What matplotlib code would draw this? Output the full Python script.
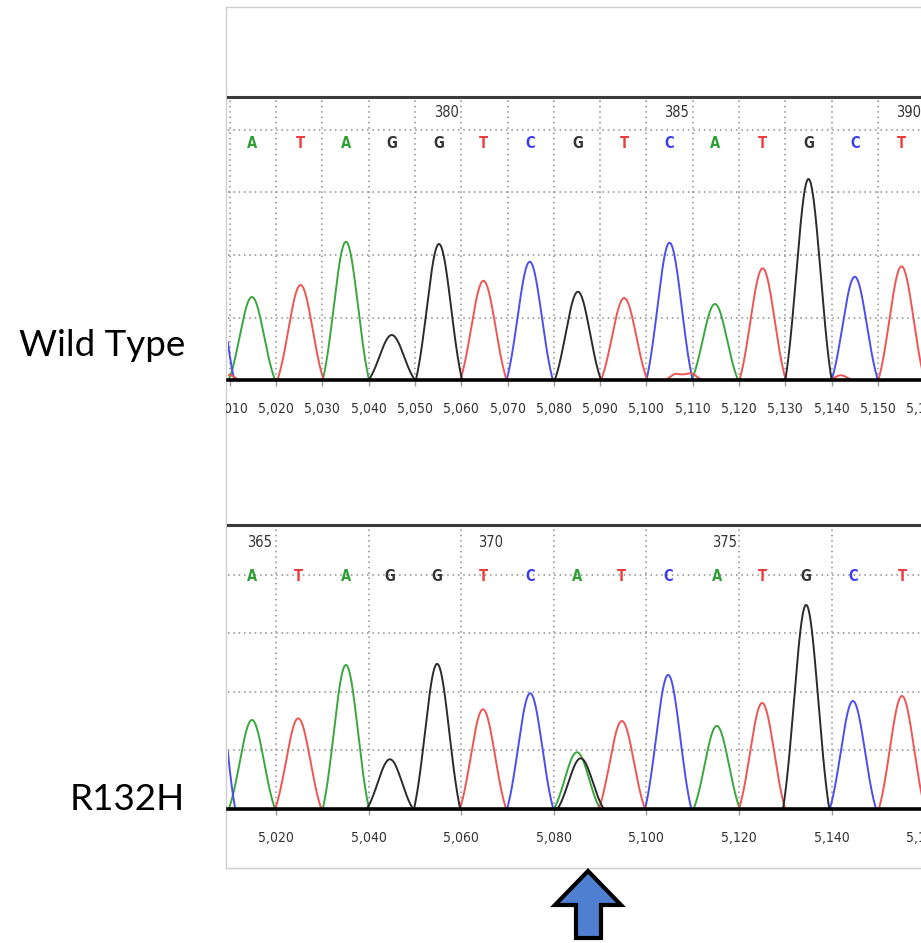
import numpy as np
import matplotlib
matplotlib.use("Agg")
import matplotlib.pyplot as plt
from matplotlib.patches import Polygon

# base calls for the two reads
wt_bases = list("ATAGGTCGTCATGCT")
mut_bases = list("ATAGGTCATCATGCT")

# peak centres (scan position) and peak heights
wt_pos = [5014.8, 5025.3, 5035.1, 5045.0, 5055.2, 5064.8, 5074.8, 5085.2,
          5095.2, 5105.0, 5114.8, 5125.1, 5135.0, 5145.0, 5155.1]
wt_height = [664, 760, 1106, 360, 1088, 794, 946, 706,
             656, 1098, 608, 893, 1608, 826, 909]
mut_pos = [5014.8, 5024.8, 5035.1, 5044.6, 5054.8, 5064.7, 5074.9, 5085.0,
           5094.7, 5104.7, 5115.2, 5125.0, 5134.5, 5144.6, 5155.2]
mut_height = [761, 775, 1231, 425, 1240, 852, 989, 485,
              752, 1146, 710, 906, 1744, 923, 966]

# extra peaks: (base, position, height, half width)
wt_extra = [("C", 5006.0, 1100, 5), ("T", 5010.0, 40, 2),
            ("T", 5106.5, 50, 2.5), ("T", 5109.5, 55, 2.5), ("T", 5142.0, 38, 2.5)]
mut_extra = [("C", 5006.2, 1500, 5), ("G", 5085.8, 433, 5)]

# base numbering
wt_first, wt_marks = 376, [375, 380, 385, 390]
mut_first, mut_marks = 365, [365, 370, 375]

wt_ticks = list(range(5010, 5170, 10))
mut_ticks = list(range(5020, 5170, 20))

trace_col = {"A": "#3aa63f", "T": "#ee5656", "C": "#4d4df0", "G": "#2b2b2b"}
letter_col = {"A": "#2f9e35", "T": "#ee3b3b", "C": "#3a3aee", "G": "#333333"}

W, H = 921, 943
fig = plt.figure(figsize=(W / 100, H / 100), dpi=100)


def px(x0, y_top, x1, y_bot):
    return [x0 / W, 1 - y_bot / H, (x1 - x0) / W, (y_bot - y_top) / H]


# light frame round both traces
frame = fig.add_axes(px(226, 7, 930, 868))
frame.set_xticks([])
frame.set_yticks([])
for s in frame.spines.values():
    s.set_color("#cfcfcf")
    s.set_linewidth(1.0)

xlim = (5009.63, 5161.25)
dots = (0, (1, 2.5))


def trace(x, centres, heights, halfw):
    y = np.zeros_like(x)
    for c, h, w in zip(centres, heights, halfw):
        s = w / 1.9
        g = np.exp(-(x - c) ** 2 / (2 * s * s))
        g0 = np.exp(-w * w / (2 * s * s))
        y += h * np.clip((g - g0) / (1 - g0), 0, None)
    return y


def panel(rect, ytop, bases, pos, height, extra, first, marks, ticks,
          letter_y, num_y):
    ax = fig.add_axes(rect)
    ax.set_facecolor("none")
    ax.set_xlim(*xlim)
    ax.set_ylim(0, ytop)

    x = np.linspace(xlim[0] - 10, xlim[1] + 10, 3000)
    for b in "ACTG":
        c = [p for p, bb in zip(pos, bases) if bb == b]
        h = [v for v, bb in zip(height, bases) if bb == b]
        w = [5] * len(c)
        for eb, ep, eh, ew in extra:
            if eb == b:
                c.append(ep)
                h.append(eh)
                w.append(ew)
        ax.plot(x, trace(x, c, h, w), color=trace_col[b], lw=1.4, zorder=3)

    # base letters and numbering
    for b, p in zip(bases, pos):
        ax.text(p, letter_y, b, color=letter_col[b], fontsize=10.5,
                ha="center", va="center", fontweight="bold",
                fontstretch="condensed", zorder=4)
    for m in marks:
        i = m - first
        xp = pos[i] if i >= 0 else pos[0] + 10 * i
        ax.text(xp + 1.6, num_y, str(m), color="#333333", fontsize=10.5,
                ha="center", va="center", fontstretch="condensed",
                clip_on=True, zorder=4)

    ax.set_xticks(ticks)
    ax.set_xticklabels([f"{t:,}" for t in ticks])
    ax.set_yticks([500, 1000, 1500, 2000])
    ax.set_yticklabels([])
    ax.tick_params(axis="y", length=0)
    ax.tick_params(axis="x", length=4, width=1, color="#999999",
                   pad=12, labelsize=10, labelcolor="#333333")
    ax.grid(True, color="#8c8c8c", lw=1.1, linestyle=dots)
    for t in ax.xaxis.get_major_ticks():
        t.label1.set_clip_on(True)
        t.label1.set_clip_box(frame.bbox)
        t.label1.set_fontstretch("condensed")
    for side in ["left", "right"]:
        ax.spines[side].set_visible(False)
    ax.spines["top"].set_color("#3a3a3a")
    ax.spines["top"].set_linewidth(2.2)
    ax.spines["bottom"].set_color("black")
    ax.spines["bottom"].set_linewidth(2.6)
    ax.spines["bottom"].set_zorder(5)
    return ax


panel(px(228, 97, 930, 380), 2264, wt_bases, wt_pos, wt_height, wt_extra,
      wt_first, wt_marks, wt_ticks, letter_y=1890, num_y=2136)
panel(px(228, 525, 930, 809), 2427, mut_bases, mut_pos, mut_height, mut_extra,
      mut_first, mut_marks, mut_ticks, letter_y=1985, num_y=2274)

# side labels
fig.text(185 / W, 1 - 345 / H, "Wild Type", ha="right", va="center",
         fontsize=26.5, family="Lato", color="black")
fig.text(185 / W, 1 - 800 / H, "R132H", ha="right", va="center",
         fontsize=26.5, family="Lato", color="black")

# arrow under the mutated base
over = fig.add_axes([0, 0, 1, 1])
over.set_xlim(0, W)
over.set_ylim(H, 0)
over.axis("off")
arrow = [(588, 871), (621, 905), (601, 905), (601, 938),
         (576, 938), (576, 905), (555, 905)]
over.add_patch(Polygon(arrow, closed=True, facecolor="#4f7fd0",
                       edgecolor="black", lw=3, joinstyle="miter"))

fig.savefig("out.png", dpi=100, facecolor="white")
